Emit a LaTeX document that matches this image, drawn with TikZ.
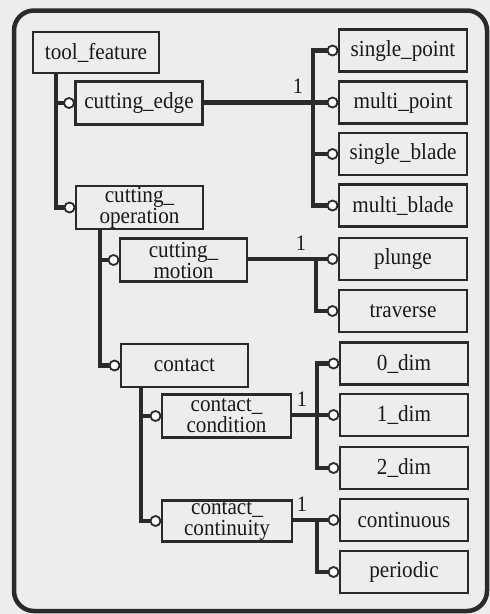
\documentclass[tikz,border=0pt]{standalone}
\usepackage{fontspec}
\setmainfont{Liberation Serif}[FakeStretch=0.92]
\definecolor{paper}{HTML}{EDEDED}
\definecolor{ink}{HTML}{2A2A2A}
\begin{document}
\begin{tikzpicture}[x=1pt,y=-1pt,
  entity/.style={draw=ink, line width=2.6pt, minimum width=127pt, minimum height=43pt,
    inner sep=0pt, align=center, font=\fontsize{23}{21}\selectfont, text=ink!60!black},
  leaf/.style={entity, minimum width=128pt, minimum height=42pt},
  link/.style={draw=ink, line width=4.5pt},
  port/.style={draw=ink, fill=white, line width=1.8pt},
  card/.style={font=\fontsize{22}{22}\selectfont, text=ink!60!black, inner sep=0pt,
    anchor=base, xshift=-15pt, yshift=9pt}]
% paper and frame
\fill[paper] (0,0) rectangle (490,614);
\useasboundingbox (0,0) rectangle (490,614);
\draw[ink, line width=4.5pt, rounded corners=20pt] (14,10.5) rectangle (487,611);

% hierarchy of features
\node[entity, minimum width=126pt, minimum height=41pt] (tf) at (96,52.5) {tool\_feature};
\node[entity] (ce) at (139,103) {cutting\_edge};
\node[entity] (co) at (139.5,207.5) {cutting\_\\operation};
\node[entity] (cm) at (183.5,260) {cutting\_\\motion};
\node[entity] (ct) at (184.5,365.5) {contact};
\node[entity, minimum width=129pt] (cc) at (226.5,416) {contact\_\\condition};
\node[entity, minimum width=130pt, minimum height=41pt] (cn) at (227,521) {contact\_\\continuity};

% alternatives
\node[leaf] (sp) at (403,50.5) {single\_point};
\node[leaf] (mp) at (403,102.5) {multi\_point};
\node[leaf] (sb) at (403,154) {single\_blade};
\node[leaf] (mb) at (403,205.5) {multi\_blade};
\node[leaf] (pl) at (403,259) {plunge};
\node[leaf] (tr) at (403,311) {traverse};
\node[leaf] (d0) at (404,363.5) {0\_dim};
\node[leaf] (d1) at (404,415) {1\_dim};
\node[leaf] (d2) at (404,468) {2\_dim};
\node[leaf] (cs) at (404,520) {continuous};
\node[leaf] (pe) at (404,572) {periodic};

% trunks of the tree
\coordinate (t1) at (56,0);
\coordinate (t2) at (100,0);
\coordinate (t3) at (141,0);
\draw[link] (tf.south -| t1) |- (ce.west);
\draw[link] (tf.south -| t1) |- (co.west);
\draw[link] (co.south -| t2) |- (cm.west);
\draw[link] (co.south -| t2) |- (ct.west);
\draw[link] (ct.south -| t3) |- (cc.west);
\draw[link] (ct.south -| t3) |- (cn.west);

% cutting_edge alternatives
\coordinate (b1) at (313,0);
\draw[link] (ce.east |- mp.west) -- (mp.west);
\draw[link] (b1 |- mp.west) |- (sp.west);
\draw[link] (b1 |- mp.west) |- (sb.west);
\draw[link] (b1 |- mp.west) |- (mb.west);
\node[card] (k1) at (b1 |- mp.west) {1};

% cutting_motion alternatives
\coordinate (b2) at (316,0);
\draw[link] (cm.east |- pl.west) -- (pl.west);
\draw[link] (b2 |- pl.west) |- (tr.west);
\node[card] (k2) at (b2 |- pl.west) {1};

% contact_condition alternatives
\coordinate (b3) at (317,0);
\draw[link] (cc.east |- d1.west) -- (d1.west);
\draw[link] (b3 |- d1.west) |- (d0.west);
\draw[link] (b3 |- d1.west) |- (d2.west);
\node[card] (k3) at (b3 |- d1.west) {1};

% contact_continuity alternatives
\coordinate (b4) at (317,0);
\draw[link] (cn.east |- cs.west) -- (cs.west);
\draw[link] (b4 |- cs.west) |- (pe.west);
\node[card] (k4) at (b4 |- cs.west) {1};

% optional-membership circles where each link meets its box
\foreach \n in {ce,co,cm,ct,cc,cn,sp,mp,sb,mb,pl,tr,d0,d1,d2,cs,pe}
  \draw[port] ([xshift=-5.2pt]\n.west) circle[radius=5pt];
\end{tikzpicture}
\end{document}
